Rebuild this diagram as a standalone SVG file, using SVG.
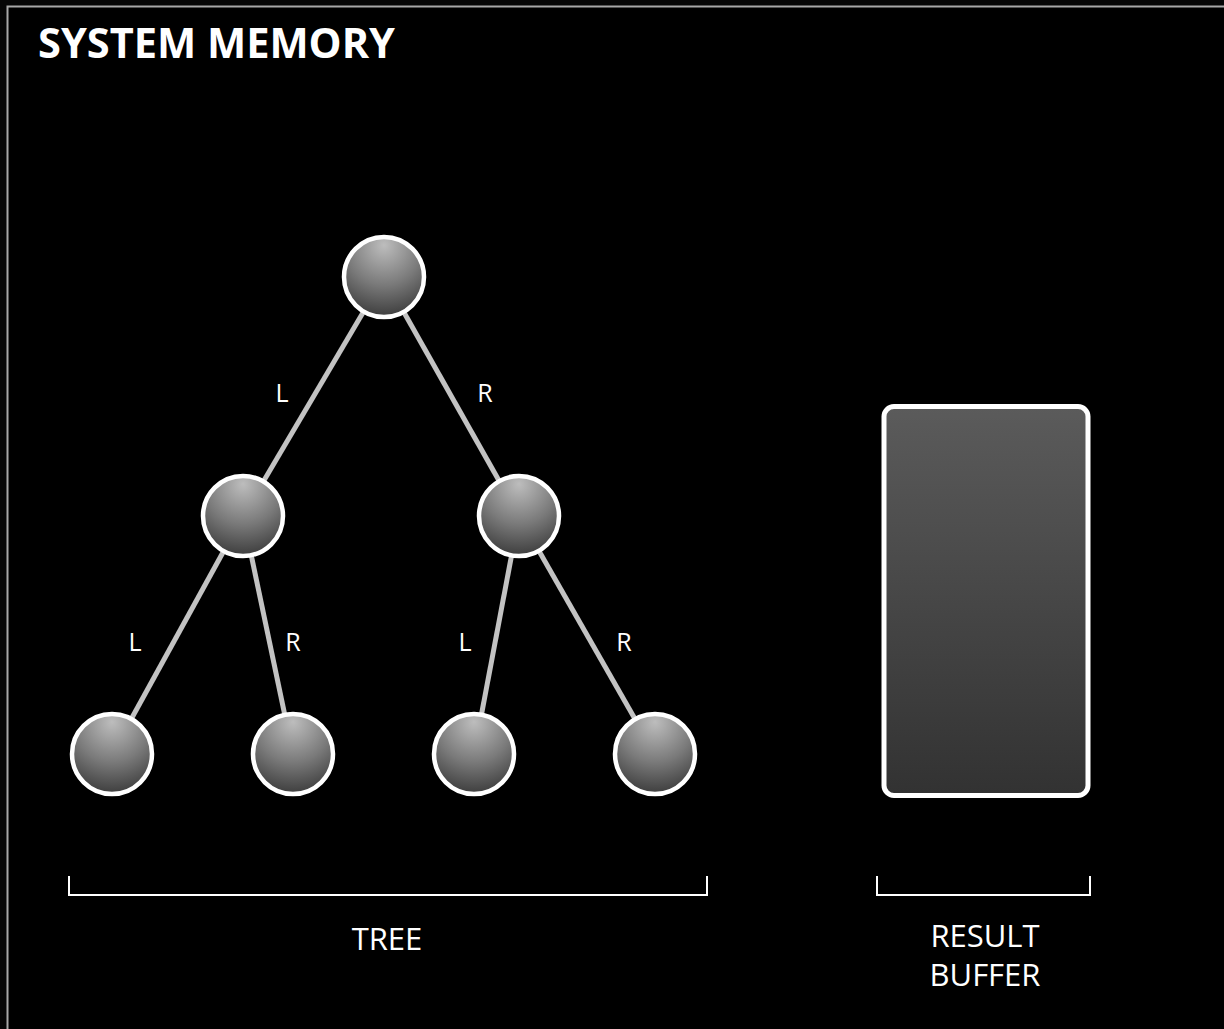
<svg xmlns="http://www.w3.org/2000/svg" width="1224" height="1029" viewBox="0 0 1224 1029">
  <defs>
    <radialGradient id="ball" cx="0.5" cy="0.15" r="0.95" fx="0.5" fy="0.1">
      <stop offset="0" stop-color="#bdbdbd"/>
      <stop offset="0.5" stop-color="#7a7a7a"/>
      <stop offset="1" stop-color="#2e2e2e"/>
    </radialGradient>
    <linearGradient id="buf" x1="0" y1="0" x2="0" y2="1">
      <stop offset="0" stop-color="#5b5b5b"/>
      <stop offset="1" stop-color="#323232"/>
    </linearGradient>
  </defs>
  <style>
    .node { fill: url(#ball); stroke: #ffffff; stroke-width: 4.5; }
    .edge { stroke: #c3c3c3; stroke-width: 5; fill: none; }
    .lbl { fill: #ffffff; font-family: "Open Sans", "Liberation Sans", sans-serif; font-size: 25px; text-anchor: middle; }
    .cap { fill: #ffffff; font-family: "Open Sans", "Liberation Sans", sans-serif; font-size: 31px; text-anchor: middle; }
    .brace { stroke: #ffffff; stroke-width: 2; fill: none; }
  </style>

  <rect x="0" y="0" width="1224" height="1029" fill="#060606"/>
  <!-- memory frame -->
  <rect x="7.5" y="6.5" width="1230" height="1040" fill="#000000" stroke="#a8a8a8" stroke-width="2"/>
  <text x="38" y="58" fill="#ffffff" font-family="'Open Sans', 'Liberation Sans', sans-serif" font-weight="bold" font-size="41" textLength="357" lengthAdjust="spacingAndGlyphs">SYSTEM MEMORY</text>

  <g id="connectors">
    <line class="edge" x1="384" y1="277" x2="243" y2="516"/>
    <line class="edge" x1="384" y1="277" x2="519" y2="516"/>
    <line class="edge" x1="243" y1="516" x2="112" y2="754"/>
    <line class="edge" x1="243" y1="516" x2="293" y2="754"/>
    <line class="edge" x1="519" y1="516" x2="474" y2="754"/>
    <line class="edge" x1="519" y1="516" x2="655" y2="754"/>
    <text class="lbl" x="282" y="402">L</text>
    <text class="lbl" x="485" y="402">R</text>
    <text class="lbl" x="135" y="651">L</text>
    <text class="lbl" x="293" y="651">R</text>
    <text class="lbl" x="465" y="651">L</text>
    <text class="lbl" x="624" y="651">R</text>
  </g>

  <g id="root"><circle class="node" cx="384" cy="277" r="40"/></g>
  <g id="mid-left"><circle class="node" cx="243" cy="516" r="40"/></g>
  <g id="mid-right"><circle class="node" cx="519" cy="516" r="40"/></g>
  <g id="leaf-1"><circle class="node" cx="112" cy="754" r="40"/></g>
  <g id="leaf-2"><circle class="node" cx="293" cy="754" r="40"/></g>
  <g id="leaf-3"><circle class="node" cx="474" cy="754" r="40"/></g>
  <g id="leaf-4"><circle class="node" cx="655" cy="754" r="40"/></g>

  <g id="result-buffer">
    <rect x="884" y="406.5" width="204" height="389" rx="10" fill="url(#buf)" stroke="#ffffff" stroke-width="5"/>
  </g>

  <g id="tree-label">
    <polyline class="brace" points="69,876 69,895 707,895 707,876"/>
    <text class="cap" x="387" y="950">TREE</text>
  </g>
  <g id="buffer-label">
    <polyline class="brace" points="877,876 877,895 1090,895 1090,876"/>
    <text class="cap" x="985" y="947">RESULT</text>
    <text class="cap" x="985" y="986">BUFFER</text>
  </g>
</svg>
